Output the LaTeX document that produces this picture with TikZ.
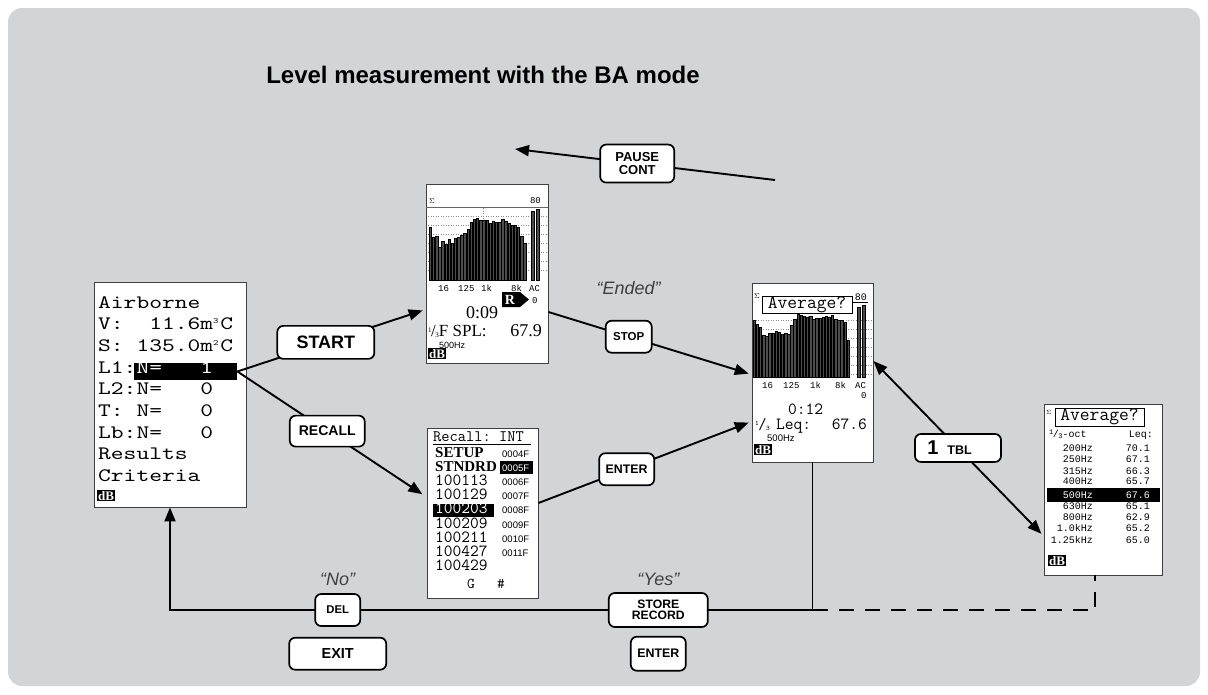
\documentclass[tikz,border=0pt]{standalone}
\usepackage{fontspec}
\setmainfont{Liberation Sans}
\newfontfamily\lcdwide[FakeStretch=1.28]{lmmono10-regular.otf}
\newfontfamily\lcdserif{Liberation Serif}
\newfontfamily\lcdsmall{Liberation Mono}
\usetikzlibrary{arrows.meta,positioning,calc}
\definecolor{panelgray}{RGB}{211,212,214}
\definecolor{saygray}{RGB}{64,64,64}
\newcommand\fsz[1]{\fontsize{#1}{#1}\selectfont}
\newcommand\third{\raisebox{.45ex}{\fsz{7}1}\kern-.5pt/\kern-.5pt\raisebox{-.2ex}{\fsz{7}3}}

\begin{document}
\begin{tikzpicture}[x=1pt,y=-1pt,
    screen/.style={draw=black!75,line width=.9pt,fill=white,inner sep=0pt},
    key/.style={draw,line width=1.7pt,rounded corners=6pt,fill=white,inner sep=0pt,align=center,font=\bfseries},
    flow/.style={line width=1.9pt,->},
    say/.style={font=\itshape\fsz{18},text=saygray,inner sep=0pt},
    lcd/.style={inner sep=0pt,anchor=base west},
    lcdr/.style={inner sep=0pt,anchor=base east},
    bar/.style={fill=black!70,draw=black,line width=.4pt},
    grid/.style={black!45,dotted,line width=.5pt},
    dbicon/.style={fill=black,text=white,inner sep=1pt,font=\lcdserif\bfseries\fsz{13},anchor=north west},
    >={Triangle[length=14pt,width=11pt]}
]
\useasboundingbox (0,0) rectangle (1208,694);
\fill[panelgray,rounded corners=14pt] (8,8) rectangle (1200,686);
\node[font=\bfseries\fsz{24}] (title) at (483,75) {Level measurement with the BA mode};

% screen 1: setup menu
\node[screen,minimum width=152pt,minimum height=225pt] (air) at (170,394.5) {};
\node[fill=black,inner sep=0pt,minimum width=103pt,minimum height=17pt,anchor=west] (airsel) at (134,371.5) {};
\foreach \txt [count=\i] in {Airborne,
    {V:~~11.6m\raisebox{.7ex}{\fsz{8}3}\kern2pt C},
    {S:~135.0m\raisebox{.7ex}{\fsz{8}2}\kern2pt C},
    {L1:\textcolor{white}{N=~~~1}},
    {L2:N=~~~0},
    {T:~N=~~~0},
    {Lb:N=~~~0},
    Results,Criteria}
  \node[lcd,font=\lcdwide\fsz{19}] (air-\i) at (98,{308+21.7*(\i-1)}) {\txt};
\node[dbicon] (air-db) at (97,490) {dB};

% screen 2: running spectrum
\node[screen,minimum width=122pt,minimum height=179pt] (spec) at (487,273.5) {};
\foreach \yy in {216,225,...,272}
  \draw[grid] (428,\yy) -- (546,\yy);
\draw[grid] (483,208) -- (483,280);
\draw[black!60,line width=.6pt] (426,207) -- (548,207);
\foreach \h [count=\i] in {53,43,44,33,39,36,41,37,42,43,45,47,51,58,61,62,60,60,60,57,59,58,58,61,59,57,55,55,53,44,37}
  \filldraw[bar] ({429+3.15*(\i-1)},280) rectangle ++(2.4,-\h);
\filldraw[bar] (531,280) rectangle ++(3.6,-69);
\filldraw[bar] (536,280) rectangle ++(3.6,-71);
\node[lcd,font=\fsz{7}] (spec-sig) at (429,203) {$\Sigma$};
\node[lcdr,font=\lcdsmall\fsz{9}] (spec-top) at (541,203) {80};
\foreach \lab/\xx in {16/438,125/458,1k/481,8k/511,AC/529}
  \node[lcd,font=\lcdsmall\fsz{9}] (spec-\lab) at (\xx,291) {\lab};
\node[lcd,font=\lcdsmall\fsz{9}] (spec-zero) at (532,303) {0};
\fill (502,292) -- (520,292) -- (529,299.5) -- (520,307) -- (502,307) -- cycle;
\node[font=\lcdserif\bfseries\fsz{14},text=white,inner sep=0pt] (spec-rec) at (510,300) {R};
\node[lcd,font=\lcdserif\fsz{18}] (spec-time) at (466,318) {0:09};
\node[lcd,font=\lcdserif\fsz{17}] (spec-lbl) at (428,336) {\third F SPL:};
\node[lcdr,font=\lcdserif\fsz{18}] (spec-val) at (542,336) {67.9};
\node[lcd,font=\fsz{9}] (spec-band) at (439,348) {500Hz};
\node[dbicon] (spec-db) at (428,348) {dB};

% screen 3: recall list
\node[screen,minimum width=111pt,minimum height=170pt] (recall) at (482.5,513) {};
\node[lcd,font=\ttfamily\fsz{16}] (rec-title) at (433,441) {Recall:~INT};
\draw[line width=.7pt] (433,444.5) -- (531,444.5);
\fill (500,461) rectangle (533,474);
\fill (433,503.5) rectangle (494,516.5);
\node[lcd,font=\lcdserif\bfseries\fsz{15}] (rec-1) at (435,457) {SETUP};
\node[lcd,font=\lcdserif\bfseries\fsz{15}] (rec-2) at (435,471.2) {STNDRD};
\foreach \nm/\col [count=\i from 3] in {100113/black,100129/black,100203/white,100209/black,100211/black,100427/black,100429/black}
  \node[lcd,font=\ttfamily\fsz{17},text=\col] (rec-\i) at (435,{457+14.2*(\i-1)}) {\nm};
\foreach \cd/\col [count=\i] in {0004F/black,0005F/white,0006F/black,0007F/black,0008F/black,0009F/black,0010F/black,0011F/black}
  \node[lcd,font=\fsz{9.5},text=\col] (code-\i) at (502,{457+14.2*(\i-1)}) {\cd};
\node[lcd,font=\ttfamily\fsz{15}] (rec-g) at (467,588) {G};
\node[lcd,font=\ttfamily\fsz{15}] (rec-hash) at (497,588) {\#};

% screen 4: averaged spectrum
\node[screen,minimum width=121pt,minimum height=179pt] (avg) at (812.5,372.5) {};
\foreach \yy in {320,329,...,376}
  \draw[grid] (753,\yy) -- (871,\yy);
\draw[grid] (808,303) -- (808,377);
\foreach \h [count=\i] in {57,53,50,42,41,44,44,46,45,43,44,43,52,58,63,62,61,60,61,58,59,59,60,61,60,62,58,57,57,55,37}
  \filldraw[bar] ({753+3.13*(\i-1)},377) rectangle ++(2.4,-\h);
\filldraw[bar] (857,377) rectangle ++(3.6,-70);
\filldraw[bar] (862,377) rectangle ++(3.6,-72);
\node[draw,line width=1pt,fill=white,inner sep=0pt,minimum width=90pt,minimum height=17pt,font=\ttfamily\fsz{19}] (avg-q) at (807,305) {Average?};
\node[lcd,font=\fsz{7}] (avg-sig) at (754,298) {$\Sigma$};
\node[lcdr,font=\lcdsmall\fsz{10}] (avg-top) at (867,300) {80};
\draw[line width=.6pt] (852,302) -- (868,302);
\foreach \lab/\xx in {16/762,125/783,1k/810,8k/835,AC/855}
  \node[lcd,font=\lcdsmall\fsz{9}] (avg-\lab) at (\xx,388) {\lab};
\node[lcd,font=\lcdsmall\fsz{9}] (avg-zero) at (861,398) {0};
\node[lcd,font=\ttfamily\fsz{17}] (avg-time) at (788,414) {0:12};
\node[lcd,font=\ttfamily\fsz{16}] (avg-third) at (755,429) {\third};
\node[lcd,font=\ttfamily\fsz{17}] (avg-lbl) at (776,429) {Leq:};
\node[lcdr,font=\ttfamily\fsz{17}] (avg-val) at (867,429) {67.6};
\node[lcd,font=\fsz{9.5}] (avg-band) at (767,441) {500Hz};
\node[dbicon] (avg-db) at (754,444) {dB};

% screen 5: band table
\node[screen,minimum width=118pt,minimum height=171pt] (tbl) at (1103,489.5) {};
\node[draw,line width=1pt,inner sep=0pt,minimum width=89pt,minimum height=18pt,font=\ttfamily\fsz{19}] (tbl-q) at (1099.5,417) {Average?};
\node[lcd,font=\fsz{6}] (tbl-sig) at (1046,414) {$\Sigma$};
\node[lcd,font=\lcdsmall\fsz{10}] (tbl-h1) at (1049,437) {\third-oct};
\node[lcdr,font=\lcdsmall\fsz{10}] (tbl-h2) at (1153,437) {Leq:};
\fill (1047,488) rectangle (1160,502);
\foreach \f/\v/\yy/\col [count=\i] in {200Hz/70.1/451.7/black,250Hz/67.1/462.7/black,315Hz/66.3/474/black,400Hz/65.7/484/black,500Hz/67.6/498/white,630Hz/65.1/509/black,800Hz/62.9/520/black,1.0kHz/65.2/531.7/black,1.25kHz/65.0/543/black}
{
  \node[lcdr,font=\lcdsmall\fsz{10},text=\col] (tbl-f\i) at (1093,\yy) {\f};
  \node[lcdr,font=\lcdsmall\fsz{10},text=\col] (tbl-v\i) at (1150,\yy) {\v};
}
\node[dbicon] (tbl-db) at (1048,555) {dB};

% keys and connectors
\coordinate (pauseA) at (775,180);
\coordinate (pauseB) at (515,149);
\draw[flow] (pauseA) -- node[key,pos=.53,minimum width=74pt,minimum height=38pt,font=\bfseries\fontsize{13}{12.3}\selectfont] (pause) {PAUSE\\CONT} (pauseB);
\draw[flow,shorten >=3pt] (airsel.east) -- node[key,pos=.47,minimum width=97pt,minimum height=33pt,font=\bfseries\fsz{18}] (start) {START} ([yshift=-36pt]spec.west);
\draw[flow,shorten >=5pt] (airsel.east) -- node[key,pos=.475,minimum width=75pt,minimum height=31pt,font=\bfseries\fsz{14}] (recallkey) {RECALL} ([yshift=16pt]recall.west);
\draw[flow,shorten >=3pt] ([yshift=-38.5pt]spec.east) -- node[key,pos=.395,minimum width=46pt,minimum height=32pt,font=\bfseries\fsz{11.5}] (stop) {STOP} ([yshift=-2pt]avg.west);
\draw[flow,shorten >=3pt] ([yshift=10pt]recall.east) -- node[key,pos=.414,minimum width=55pt,minimum height=32pt,font=\bfseries\fsz{12.4}] (enter) {ENTER} ([yshift=-49pt]avg.west);
\draw[flow,<->,shorten >=3pt] ([yshift=11.5pt]avg.east) -- node[key,pos=.497,minimum width=86pt,minimum height=28pt,font=\bfseries\fsz{12.5}] (tblkey) {{\fsz{20}1}\hspace{9pt}TBL\hspace*{17pt}} ([yshift=-46.5pt]tbl.west);

\coordinate (loopL) at (170,610);
\draw[line width=1.9pt,dash pattern=on 15pt off 11pt] (avg.south |- loopL) -| ([xshift=-8pt]tbl.south);
\draw[flow] (avg.south) -- (avg.south |- loopL) -- node[key,pos=.24,minimum width=99pt,minimum height=34pt,font=\bfseries\fontsize{12.2}{11}\selectfont] (store) {STORE\\RECORD} node[key,pos=.739,minimum width=45pt,minimum height=32pt,font=\bfseries\fsz{11.3}] (del) {DEL} (loopL) -- (air.south);
\node[key,below=10pt of del,minimum width=97pt,minimum height=32pt,font=\bfseries\fsz{14.5}] (exit) {EXIT};
\node[key,below=8pt of store,minimum width=55pt,minimum height=34pt,font=\bfseries\fsz{12.4}] (enter2) {ENTER};

\node[say,above=8pt of del,anchor=base] (no) {“No”};
\node[say,above=7pt of store,anchor=base] (yes) {“Yes”};
\node[say,above=25pt of stop,anchor=base] (ended) {“Ended”};
\end{tikzpicture}
\end{document}
